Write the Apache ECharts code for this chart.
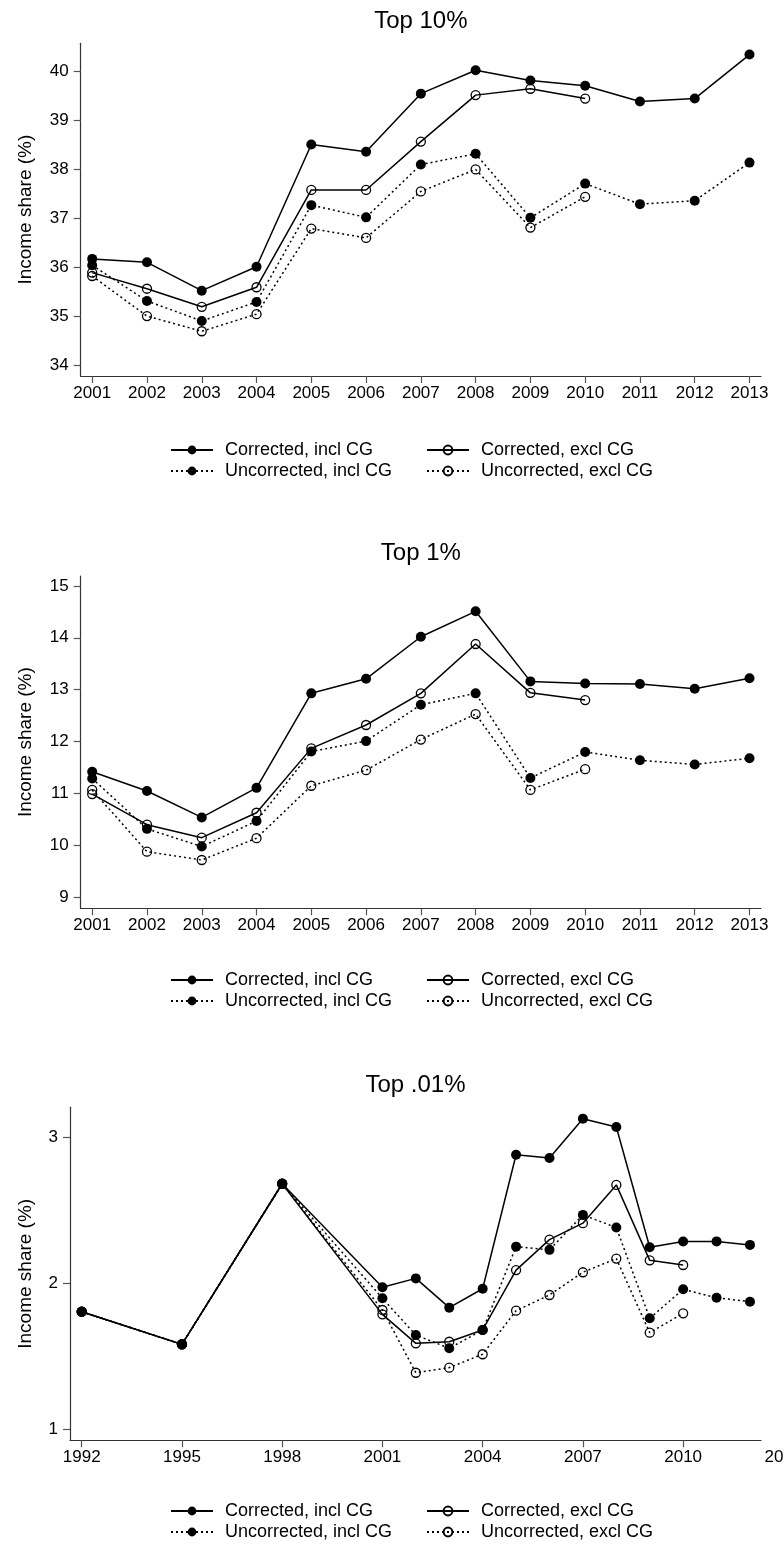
<!DOCTYPE html>
<html>
<head>
<meta charset="utf-8">
<script src="https://cdn.jsdelivr.net/npm/echarts@6/dist/echarts.min.js"></script>
<style>
  html, body { margin: 0; padding: 0; background: #fff; }
  #chart { width: 784px; height: 1549px; }
</style>
</head>
<body>
<div id="chart"></div>
<script>
// ---- Data: income shares (%) ----
const yearsTop10 = [2001, 2002, 2003, 2004, 2005, 2006, 2007, 2008, 2009, 2010, 2011, 2012, 2013];
const top10CorrIncl = [36.17, 36.10, 35.52, 36.01, 38.51, 38.36, 39.55, 40.03, 39.82, 39.71, 39.39, 39.45, 40.35];
const top10CorrExcl = [35.89, 35.56, 35.19, 35.59, 37.58, 37.58, 38.57, 39.52, 39.65, 39.45];
const top10UncIncl  = [36.04, 35.31, 34.90, 35.29, 37.27, 37.02, 38.10, 38.32, 37.01, 37.71, 37.29, 37.36, 38.14];
const top10UncExcl  = [35.82, 35.00, 34.69, 35.04, 36.79, 36.60, 37.55, 38.00, 36.81, 37.44];

const yearsTop1 = [2001, 2002, 2003, 2004, 2005, 2006, 2007, 2008, 2009, 2010, 2011, 2012, 2013];
const top1CorrIncl = [11.42, 11.05, 10.54, 11.11, 12.93, 13.21, 14.02, 14.51, 13.16, 13.12, 13.11, 13.02, 13.22];
const top1CorrExcl = [10.99, 10.40, 10.15, 10.63, 11.87, 12.32, 12.93, 13.88, 12.94, 12.80];
const top1UncIncl  = [11.29, 10.32, 9.98, 10.47, 11.81, 12.01, 12.71, 12.93, 11.30, 11.80, 11.64, 11.56, 11.68];
const top1UncExcl  = [11.07, 9.88, 9.72, 10.14, 11.15, 11.45, 12.04, 12.53, 11.07, 11.47];

const yearsTop001 = [1992, 1995, 1998, 2001, 2002, 2003, 2004, 2005, 2006, 2007, 2008, 2009, 2010, 2011, 2012];
const top001CorrIncl = [1.805, 1.581, 2.684, 1.973, 2.034, 1.833, 1.963, 2.883, 2.861, 3.131, 3.074, 2.248, 2.287, 2.288, 2.264];
const top001CorrExcl = [1.805, 1.581, 2.684, 1.787, 1.588, 1.599, 1.680, 2.091, 2.300, 2.413, 2.676, 2.158, 2.126];
const top001UncIncl  = [1.805, 1.581, 2.684, 1.897, 1.645, 1.554, 1.679, 2.252, 2.230, 2.470, 2.383, 1.760, 1.959, 1.901, 1.874];
const top001UncExcl  = [1.805, 1.581, 2.684, 1.817, 1.386, 1.421, 1.513, 1.812, 1.920, 2.076, 2.170, 1.661, 1.794];

// ---- Tick labels ----
const xTicksTop10 = yearsTop10;
const xTicksTop1 = yearsTop1;
const xTicksTop001 = [1992, 1995, 1998, 2001, 2004, 2007, 2010];
const yTicksTop10 = [34, 35, 36, 37, 38, 39, 40];
const yTicksTop1 = [9, 10, 11, 12, 13, 14, 15];
const yTicksTop001 = [1, 2, 3];

const panelTitles = ['Top 10%', 'Top 1%', 'Top .01%'];
const seriesNames = ['Corrected, incl CG', 'Corrected, excl CG', 'Uncorrected, incl CG', 'Uncorrected, excl CG'];
const yAxisTitle = 'Income share (%)';

// ---- Styling ----
const FONT = '"Liberation Sans", Arial, Helvetica, sans-serif';
const INK = '#000';
const AXIS = '#333';

const pairs = (xs, ys) => ys.map((v, i) => [xs[i], v]);

function makeSeries(name, gridIdx, data, filled, dotted) {
  return {
    name,
    type: 'line',
    xAxisIndex: gridIdx,
    yAxisIndex: gridIdx,
    data,
    symbol: 'circle',
    symbolSize: filled ? 10 : 9,
    showAllSymbol: true,
    animation: false,
    silent: true,
    lineStyle: { color: INK, width: 1.5, type: dotted ? [2, 3] : 'solid' },
    itemStyle: filled
      ? { color: INK, borderWidth: 0 }
      : { color: 'rgba(255,255,255,0)', borderColor: INK, borderWidth: 1.3 },
    emphasis: { disabled: true }
  };
}

const panels = [
  { years: yearsTop10, vals: [top10CorrIncl, top10CorrExcl, top10UncIncl, top10UncExcl],
    left: 80.7, top: 43.3, height: 332.7, xMin: 2000.79, xMax: 2013.21, yMin: 33.775, yMax: 40.58,
    xTicks: xTicksTop10, yTicks: yTicksTop10, titleTop: 9, legendTop: 441 },
  { years: yearsTop1, vals: [top1CorrIncl, top1CorrExcl, top1UncIncl, top1UncExcl],
    left: 80.7, top: 576, height: 332.3, xMin: 2000.79, xMax: 2013.21, yMin: 8.79, yMax: 15.19,
    xTicks: xTicksTop1, yTicks: yTicksTop1, titleTop: 541, legendTop: 971 },
  { years: yearsTop001, vals: [top001CorrIncl, top001CorrExcl, top001UncIncl, top001UncExcl],
    left: 70, top: 1107.3, height: 333, xMin: 1991.65, xMax: 2012.33, yMin: 0.922, yMax: 3.209,
    xTicks: xTicksTop001, yTicks: yTicksTop001, titleTop: 1073, legendTop: 1502 }
];

const RIGHT = 23;
const grids = [], xAxes = [], yAxes = [], series = [], titles = [], legends = [];

panels.forEach((p, i) => {
  grids.push({ left: p.left, right: RIGHT, top: p.top, height: p.height, containLabel: false });
  xAxes.push({
    type: 'value', gridIndex: i, min: p.xMin, max: p.xMax,
    axisLine: { show: true, lineStyle: { color: AXIS, width: 1.2 } },
    axisTick: { show: true, length: 7, lineStyle: { color: '#555', width: 1.2 }, customValues: p.xTicks },
    axisLabel: { show: true, customValues: p.xTicks, margin: 9, color: INK, fontFamily: FONT, fontSize: 17,
                 formatter: v => String(v) },
    splitLine: { show: false }
  });
  yAxes.push({
    type: 'value', gridIndex: i, min: p.yMin, max: p.yMax,
    name: yAxisTitle, nameLocation: 'middle', nameGap: p.left - 35,
    nameTextStyle: { color: INK, fontFamily: FONT, fontSize: 19 },
    axisLine: { show: true, lineStyle: { color: AXIS, width: 1.2 } },
    axisTick: { show: true, length: 7, lineStyle: { color: '#555', width: 1.2 }, customValues: p.yTicks },
    axisLabel: { show: true, customValues: p.yTicks, margin: 12, color: INK, fontFamily: FONT, fontSize: 17,
                 formatter: v => String(v) },
    splitLine: { show: false }
  });
  const styles = [[true, false], [false, false], [true, true], [false, true]];
  p.vals.forEach((vals, k) => {
    series.push(makeSeries(seriesNames[k], i, pairs(p.years, vals), styles[k][0], styles[k][1]));
  });
  const centerX = p.left + (784 - RIGHT - p.left) / 2;
  titles.push({
    text: panelTitles[i], left: centerX, top: p.titleTop, textAlign: 'center', padding: 0,
    textStyle: { color: INK, fontFamily: FONT, fontSize: 24, fontWeight: 'normal' }
  });
  const legendBase = {
    orient: 'vertical', top: p.legendTop, height: 46, padding: 0,
    itemWidth: 42, itemHeight: 11, itemGap: 3,
    selectedMode: false, inactiveColor: INK,
    textStyle: { color: INK, fontFamily: FONT, fontSize: 18, lineHeight: 18, padding: [0, 0, 0, 7] }
  };
  legends.push(Object.assign({}, legendBase, { left: 170, data: [seriesNames[0], seriesNames[2]] }));
  legends.push(Object.assign({}, legendBase, { left: 426, data: [seriesNames[1], seriesNames[3]] }));
});

const chart = echarts.init(document.getElementById('chart'), null, { renderer: 'canvas' });
chart.setOption({
  backgroundColor: '#fff',
  animation: false,
  title: titles,
  legend: legends,
  grid: grids,
  xAxis: xAxes,
  yAxis: yAxes,
  series
});

// The last decade label of the bottom panel sits past the axis end; place it through the axis scale.
const lastLabelYear = 2013;
const px = chart.convertToPixel({ xAxisIndex: 2, yAxisIndex: 2 }, [lastLabelYear, panels[2].yMin]);
chart.setOption({
  graphic: [{
    type: 'text', x: px[0], y: px[1] + 9, silent: true,
    style: { text: String(lastLabelYear), fill: INK, font: '17px ' + FONT, textAlign: 'center', textVerticalAlign: 'top' }
  }]
});
</script>
</body>
</html>
